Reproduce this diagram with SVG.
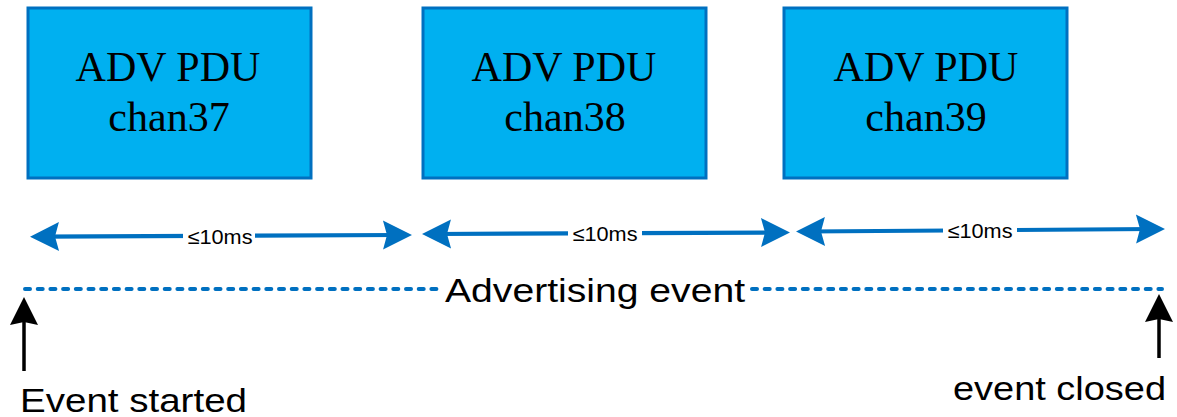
<svg xmlns="http://www.w3.org/2000/svg" width="1177" height="417" viewBox="0 0 1177 417">
  <style>
    .pdu rect { fill: #00B0F0; stroke: #0070C0; stroke-width: 3; }
    .pdu text { font-family: "Liberation Serif", "Times New Roman", serif; font-size: 42px; fill: #000; text-anchor: middle; }
    .span { stroke: #0070C0; stroke-width: 4.2; fill: none; }
    .tick { stroke: #000; stroke-width: 3.5; fill: none; }
    .dur { font-family: "Liberation Sans", Arial, sans-serif; font-size: 20.5px; fill: #000; text-anchor: middle; }
    .lbl { font-family: "Liberation Sans", Arial, sans-serif; font-size: 34px; fill: #000; }
    .timeline { stroke: #0070C0; stroke-width: 4; stroke-dasharray: 5 7.7; stroke-linecap: round; fill: none; }
  </style>
  <defs>
    <marker id="blueHead" markerUnits="userSpaceOnUse" viewBox="-20 -16 34 32" refX="0" refY="0" markerWidth="34" markerHeight="32" orient="auto-start-reverse">
      <path d="M12,0 L-17,-14.5 L-13,0 L-17,14.5 Z" fill="#0070C0"/>
    </marker>
    <marker id="blackHead" markerUnits="userSpaceOnUse" viewBox="-20 -16 34 32" refX="0" refY="0" markerWidth="34" markerHeight="32" orient="auto">
      <path d="M12,0 L-16,-14 L-13,0 L-16,14 Z" fill="#000"/>
    </marker>
  </defs>

  <!-- advertising PDUs, one per channel -->
  <g id="pdu37" class="pdu">
    <rect x="28" y="8" width="283" height="170"/>
    <text x="168" y="81">ADV PDU</text>
    <text x="169" y="131">chan37</text>
  </g>
  <g id="pdu38" class="pdu">
    <rect x="423" y="8" width="283" height="170"/>
    <text x="564" y="81">ADV PDU</text>
    <text x="565" y="131">chan38</text>
  </g>
  <g id="pdu39" class="pdu">
    <rect x="784" y="8" width="283" height="170"/>
    <text x="926" y="81">ADV PDU</text>
    <text x="926" y="131">chan39</text>
  </g>

  <g id="connectors">
    <!-- interval spans between PDUs -->
    <line class="span" x1="42" y1="236.6" x2="400" y2="235" marker-start="url(#blueHead)" marker-end="url(#blueHead)"/>
    <line class="span" x1="434" y1="234" x2="778" y2="232.5" marker-start="url(#blueHead)" marker-end="url(#blueHead)"/>
    <line class="span" x1="808" y1="231.5" x2="1153" y2="229" marker-start="url(#blueHead)" marker-end="url(#blueHead)"/>

    <!-- advertising event timeline -->
    <line class="timeline" x1="25" y1="289" x2="442" y2="289"/>
    <line class="timeline" x1="752" y1="289" x2="1162" y2="289"/>

    <!-- start / end markers -->
    <line class="tick" x1="24" y1="371" x2="24" y2="309" marker-end="url(#blackHead)"/>
    <line class="tick" x1="1159" y1="358" x2="1159" y2="306" marker-end="url(#blackHead)"/>
  </g>

  <g id="labels">
    <rect x="183" y="226" width="72" height="20" fill="#fff"/>
    <text class="dur" x="220" y="243.5" textLength="65" lengthAdjust="spacingAndGlyphs">≤10ms</text>
    <rect x="568" y="223" width="74" height="20" fill="#fff"/>
    <text class="dur" x="605" y="241" textLength="65" lengthAdjust="spacingAndGlyphs">≤10ms</text>
    <rect x="943" y="220" width="74" height="20" fill="#fff"/>
    <text class="dur" x="980" y="238" textLength="65" lengthAdjust="spacingAndGlyphs">≤10ms</text>

    <text class="lbl" x="445" y="302" font-size="35" textLength="300" lengthAdjust="spacingAndGlyphs">Advertising event</text>
    <text class="lbl" x="20" y="412" textLength="227" lengthAdjust="spacingAndGlyphs">Event started</text>
    <text class="lbl" x="953" y="400" textLength="213" lengthAdjust="spacingAndGlyphs">event closed</text>
  </g>
</svg>
